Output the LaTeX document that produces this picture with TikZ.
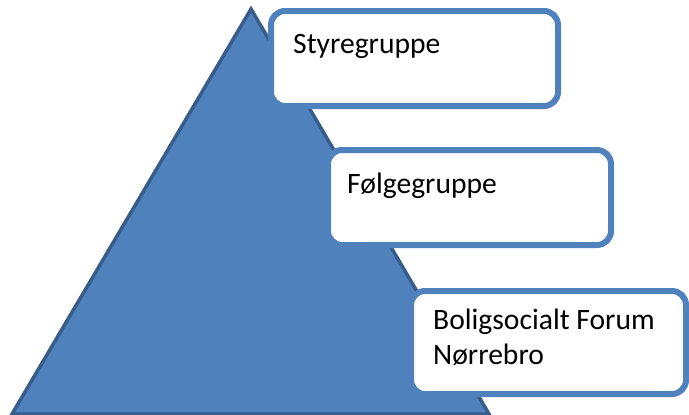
\documentclass[tikz,border=0pt]{standalone}
\usepackage{fontspec}
\setmainfont{Carlito}
\definecolor{triFill}{HTML}{4F81BD}
\definecolor{triLine}{HTML}{385D8A}
\definecolor{boxLine}{HTML}{4F81BD}
\begin{document}
\begin{tikzpicture}[x=1pt,y=-1pt,
  boxshape/.style={draw=boxLine, line width=6pt, fill=white, rounded corners=14pt,
    rectangle, anchor=north west, inner sep=0pt, outer sep=0pt},
  boxtext/.style={anchor=base west, inner sep=0pt, font=\fontsize{29.6}{35}\selectfont, align=left}]
\useasboundingbox (0,0) rectangle (689,415);
\coordinate (apex) at (251,9);
\coordinate (bl) at (12,414);
\coordinate (br) at (489,414);
\fill[triFill] (apex) -- (br) -- (bl) -- cycle;
\draw[triLine, line width=3.5pt, line join=miter] (apex) -- (br) -- (bl) -- cycle;
\node[boxshape, minimum width=287pt, minimum height=95pt] (box1) at (271,11) {};
\node[boxshape, minimum width=283pt, minimum height=95pt] (box2) at (328,150) {};
\node[boxshape, minimum width=275pt, minimum height=103pt] (box3) at (411,291) {};
\node[boxtext] (t1) at (293,53) {Styregruppe};
\node[boxtext] (t2) at (347,193) {Følgegruppe};
\node[boxtext, anchor=north west] (t3) at (433,309) {Boligsocialt Forum\\Nørrebro};
\end{tikzpicture}
\end{document}
